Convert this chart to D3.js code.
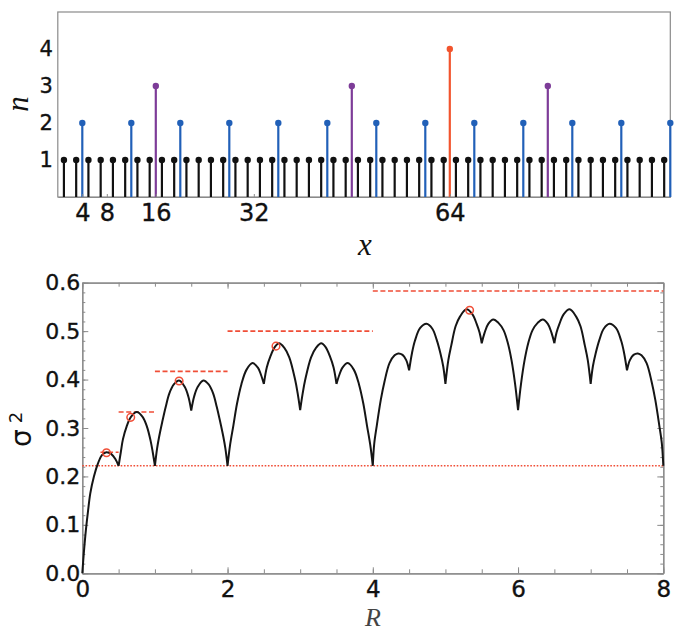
<!DOCTYPE html>
<html><head><meta charset="utf-8">
<script src="https://cdn.jsdelivr.net/npm/d3@7"></script>
<style>body{margin:0;background:#fff} svg{display:block}</style>
</head><body><svg id="c" width="675" height="632"></svg>
<script>
// ---------- top panel data ----------
const xTicksTop = [4, 8, 16, 32, 64];
const nTicks = [1, 2, 3, 4];
const stemX1 = [1,3,5,7,9,11,13,15,17,19,21,23,25,27,29,31,33,35,37,39,41,43,45,47,49,51,53,55,57,59,61,63,65,67,69,71,73,75,77,79,81,83,85,87,89,91,93,95,97,99];
const stemX2 = [4,12,20,28,36,44,52,60,68,76,84,92,100];
const stemX3 = [16,48,80];
const stemX4 = [64];
const stemLevels = [1, 2, 3, 4];

// ---------- bottom panel data ----------
const rTicks = [0, 2, 4, 6, 8];
const sTicks = [0, 0.1, 0.2, 0.3, 0.4, 0.5, 0.6];
const cuspR = [0.5,1,1.5,2,2.5,3,3.5,4,4.5,5,5.5,6,6.5,7,7.5];
const curveR = [
  0,0.02,0.05,0.08,0.11,0.16,0.216,0.27,0.333,0.4,0.455,0.5,
  0.53,0.56,0.61,0.67,0.75,0.83,0.89,0.94,0.97,1.0,
  1.03,1.058,1.1,1.149,1.2,1.26,1.333,1.41,1.46,1.5,
  1.54,1.59,1.667,1.74,1.8,1.851,1.9,1.942,1.97,2.0,
  2.035,2.08,2.13,2.19,2.26,2.345,2.42,2.46,2.5,
  2.54,2.59,2.65,2.71,2.78,2.85,2.93,2.965,3.0,
  3.035,3.07,3.15,3.22,3.29,3.35,3.41,3.46,3.5,
  3.54,3.58,3.655,3.74,3.81,3.87,3.92,3.965,4.0,
  4.02,4.055,4.11,4.16,4.23,4.3,4.35,4.41,4.46,4.5,
  4.54,4.58,4.65,4.74,4.82,4.88,4.93,4.97,5.0,
  5.04,5.08,5.14,5.2,5.29,5.37,5.43,5.47,5.5,
  5.54,5.59,5.66,5.73,5.8,5.86,5.91,5.96,6.0,
  6.04,6.09,6.14,6.2,6.27,6.34,6.41,6.46,6.5,
  6.53,6.57,6.63,6.71,6.8,6.86,6.92,6.96,7.0,
  7.03,7.07,7.12,7.18,7.26,7.35,7.42,7.46,7.5,
  7.54,7.59,7.65,7.7,7.77,7.84,7.89,7.945,7.98,8.0
];
const curveS = [
  0,0.04,0.09,0.13,0.165,0.2,0.227,0.244,0.25,0.246,0.236,0.222,
  0.25,0.277,0.303,0.323,0.333,0.323,0.303,0.274,0.25,0.222,
  0.258,0.282,0.312,0.344,0.372,0.39,0.398,0.385,0.365,0.336,
  0.365,0.385,0.398,0.39,0.372,0.344,0.312,0.282,0.258,0.222,
  0.265,0.305,0.35,0.39,0.42,0.434,0.424,0.41,0.391,
  0.425,0.448,0.467,0.475,0.466,0.446,0.4,0.372,0.337,
  0.372,0.4,0.446,0.466,0.475,0.467,0.448,0.425,0.391,
  0.41,0.424,0.434,0.42,0.39,0.35,0.305,0.265,0.222,
  0.268,0.305,0.358,0.395,0.434,0.45,0.454,0.451,0.44,0.419,
  0.455,0.48,0.506,0.515,0.505,0.482,0.455,0.427,0.391,
  0.44,0.47,0.51,0.53,0.545,0.535,0.515,0.497,0.475,
  0.497,0.515,0.524,0.517,0.502,0.475,0.44,0.39,0.337,
  0.39,0.44,0.475,0.502,0.517,0.524,0.515,0.497,0.475,
  0.497,0.515,0.535,0.545,0.53,0.51,0.47,0.44,0.391,
  0.427,0.455,0.482,0.505,0.515,0.506,0.48,0.455,0.419,
  0.44,0.451,0.454,0.45,0.434,0.395,0.358,0.305,0.268,0.222
];
const dottedLevel = 0.2222;
const dashLevel = [0.25, 0.333, 0.417, 0.5, 0.583];
const dashFrom = [0.25, 0.5, 1, 2, 4];
const dashTo = [0.5, 1, 2, 4, 8];
const circR = [0.333, 0.667, 1.333, 2.667, 5.333];
const circS = [0.249, 0.322, 0.397, 0.469, 0.543];

// ---------- drawing ----------
const svg = d3.select("#c");
const FRAME = "#8a8a8a";
const RED = "#f04e37";
const tickFont = "DejaVu Sans, Arial, sans-serif";
function heavy(sel) { sel.attr("stroke", "#111").attr("stroke-width", 0.35); }

// ===== top panel =====
const xT = d3.scaleLinear([0, 100], [57.8, 670.3]);
const yT = d3.scaleLinear([0, 5], [197, 12]);
const topG = svg.append("g");

topG.append("rect").attr("x", xT(0)).attr("y", yT(5))
  .attr("width", xT(100) - xT(0)).attr("height", yT(0) - yT(5))
  .attr("fill", "none").attr("stroke", FRAME).attr("stroke-width", 1.2);

const stemGroups = [
  {xs: stemX1, n: stemLevels[0], color: "#111111"},
  {xs: stemX2, n: stemLevels[1], color: "#2160b8"},
  {xs: stemX3, n: stemLevels[2], color: "#7d3c98"},
  {xs: stemX4, n: stemLevels[3], color: "#f2542d"}
];
stemGroups.forEach(gr => {
  const g = topG.append("g");
  g.selectAll("line").data(gr.xs).join("line")
    .attr("x1", d => xT(d)).attr("x2", d => xT(d))
    .attr("y1", yT(0)).attr("y2", yT(gr.n))
    .attr("stroke", gr.color).attr("stroke-width", 2.2);
  g.selectAll("circle").data(gr.xs).join("circle")
    .attr("cx", d => xT(d)).attr("cy", yT(gr.n)).attr("r", 3.2)
    .attr("fill", gr.color);
});

const axTB = topG.append("g").attr("transform", `translate(0,${yT(0)})`)
  .call(d3.axisBottom(xT).tickValues(xTicksTop).tickSize(-3).tickSizeOuter(0).tickPadding(7).tickFormat(d3.format("d")));
axTB.select(".domain").attr("stroke", FRAME).attr("stroke-width", 1.2);
axTB.selectAll(".tick line").attr("stroke", FRAME);
axTB.selectAll("text").attr("font-family", tickFont).attr("font-size", 24).attr("fill", "#111").call(heavy);

const axTL = topG.append("g").attr("transform", `translate(${xT(0)},0)`)
  .call(d3.axisLeft(yT).tickValues(nTicks).tickSize(0).tickSizeOuter(0).tickPadding(5).tickFormat(d3.format("d")));
axTL.select(".domain").remove();
axTL.selectAll("text").attr("font-family", tickFont).attr("font-size", 21).attr("fill", "#111").call(heavy);

topG.append("text").attr("x", 365).attr("y", 255).attr("text-anchor", "middle")
  .attr("font-family", "Liberation Serif, Times New Roman, serif").attr("font-style", "italic")
  .attr("font-size", 31).attr("fill", "#111").text("x");
topG.append("text").attr("transform", "translate(28,104) rotate(-90)").attr("text-anchor", "middle")
  .attr("font-family", "Liberation Serif, Times New Roman, serif").attr("font-style", "italic")
  .attr("font-size", 31).attr("fill", "#111").text("n");

// ===== bottom panel =====
const xB = d3.scaleLinear([0, 8], [82.3, 663.3]);
const yB = d3.scaleLinear([0, 0.6], [573.3, 282.7]);
const botG = svg.append("g");

const minorR = d3.range(0, 8.001, 0.5);
const minorS = d3.range(0, 0.6001, 0.02);

function styleAxis(g) {
  g.select(".domain").attr("stroke", FRAME).attr("stroke-width", 1.2);
  g.selectAll(".tick line").attr("stroke", FRAME).attr("stroke-width", 1);
}
// minor ticks
[[d3.axisBottom(xB).tickValues(minorR).tickSize(-4), `translate(0,${yB(0)})`],
 [d3.axisTop(xB).tickValues(minorR).tickSize(-4), `translate(0,${yB(0.6)})`],
 [d3.axisLeft(yB).tickValues(minorS).tickSize(-3), `translate(${xB(0)},0)`],
 [d3.axisRight(yB).tickValues(minorS).tickSize(-3), `translate(${xB(8)},0)`]
].forEach(([ax, tr]) => {
  const g = botG.append("g").attr("transform", tr).call(ax.tickSizeOuter(0).tickFormat(""));
  styleAxis(g);
});
// major ticks + labels
const axBB = botG.append("g").attr("transform", `translate(0,${yB(0)})`)
  .call(d3.axisBottom(xB).tickValues(rTicks).tickSize(-6).tickSizeOuter(0).tickPadding(7).tickFormat(d3.format("d")));
styleAxis(axBB);
axBB.selectAll("text").attr("font-family", tickFont).attr("font-size", 23).attr("fill", "#111").call(heavy);
const axBT = botG.append("g").attr("transform", `translate(0,${yB(0.6)})`)
  .call(d3.axisTop(xB).tickValues(rTicks).tickSize(-6).tickSizeOuter(0).tickFormat(""));
styleAxis(axBT);
const axBL = botG.append("g").attr("transform", `translate(${xB(0)},0)`)
  .call(d3.axisLeft(yB).tickValues(sTicks).tickSize(-6).tickSizeOuter(0).tickPadding(2).tickFormat(d3.format(".1f")));
styleAxis(axBL);
axBL.selectAll("text").attr("font-family", tickFont).attr("font-size", 22).attr("fill", "#111").call(heavy);
const axBR = botG.append("g").attr("transform", `translate(${xB(8)},0)`)
  .call(d3.axisRight(yB).tickValues(sTicks).tickSize(-6).tickSizeOuter(0).tickFormat(""));
styleAxis(axBR);

// dotted reference line
botG.append("line").attr("x1", xB(0)).attr("x2", xB(8))
  .attr("y1", yB(dottedLevel)).attr("y2", yB(dottedLevel))
  .attr("stroke", RED).attr("stroke-width", 1.6).attr("stroke-dasharray", "1.6,1.6");
// dashed levels
botG.selectAll("line.dash").data(dashLevel).join("line").attr("class", "dash")
  .attr("x1", (d, i) => xB(dashFrom[i])).attr("x2", (d, i) => xB(dashTo[i]))
  .attr("y1", d => yB(d)).attr("y2", d => yB(d))
  .attr("stroke", RED).attr("stroke-width", 1.6).attr("stroke-dasharray", "5,2.6");

// curve split at cusps
const cuspSet = new Set(cuspR);
const segs = [];
let cur = [];
curveR.forEach((r, i) => {
  cur.push([r, curveS[i]]);
  if (cuspSet.has(r) && cur.length > 1) { segs.push(cur); cur = [[r, curveS[i]]]; }
});
if (cur.length > 1) segs.push(cur);
const line = d3.line().x(d => xB(d[0])).y(d => yB(d[1])).curve(d3.curveCatmullRom.alpha(0.5));
botG.append("path").attr("d", segs.map(s => line(s)).join(""))
  .attr("fill", "none").attr("stroke", "#151515").attr("stroke-width", 2).attr("stroke-linejoin", "miter");

// circles
botG.selectAll("circle").data(circR).join("circle")
  .attr("cx", d => xB(d)).attr("cy", (d, i) => yB(circS[i])).attr("r", 3.8)
  .attr("fill", "none").attr("stroke", RED).attr("stroke-width", 1.5);

// axis titles
botG.append("text").attr("x", 373).attr("y", 626).attr("text-anchor", "middle")
  .attr("font-family", "Liberation Serif, Times New Roman, serif").attr("font-style", "italic")
  .attr("font-size", 26).attr("fill", "#444").text("R");
const sig = botG.append("text").attr("transform", "translate(31,447) rotate(-90)")
  .attr("font-family", tickFont).attr("font-size", 28).attr("fill", "#111");
sig.append("tspan").text("σ");
sig.append("tspan").attr("dx", 6).attr("dy", -9).attr("font-size", 18).text("2");
</script></body></html>
